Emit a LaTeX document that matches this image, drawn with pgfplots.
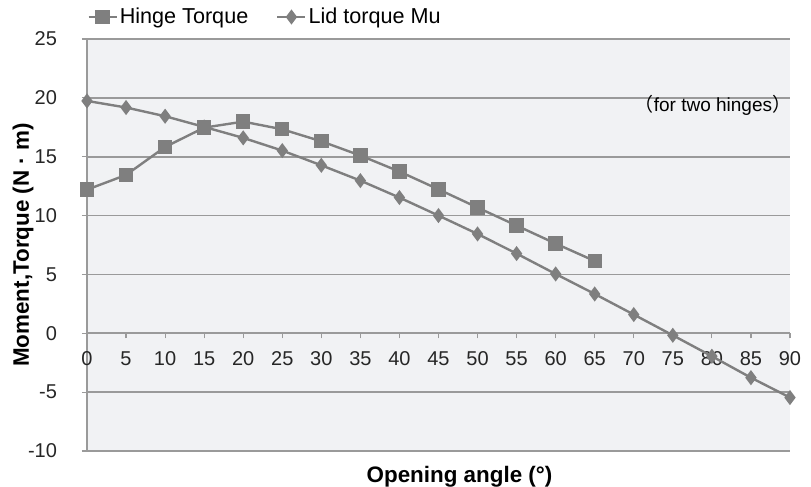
\documentclass[border=0pt]{standalone}
\usepackage{pgfplots}
\pgfplotsset{compat=1.18}
\usepackage{fontspec}
\setmainfont{Liberation Sans}
\newfontfamily\cjk{Noto Sans CJK SC}
\definecolor{bgc}{HTML}{F1F2F4}
\definecolor{gridc}{HTML}{9A9A9A}
\definecolor{serc}{HTML}{7F7F7F}
\begin{document}
\begin{tikzpicture}
\path[use as bounding box] (0,0) rectangle (405.5pt,243.5pt);
\begin{axis}[
  at={(43.5pt,18pt)}, anchor=south west,
  scale only axis, width=351.5pt, height=206pt,
  xmin=0, xmax=90, ymin=-10, ymax=25,
  axis x line=middle, axis y line=left,
  hide obscured x ticks=false, hide obscured y ticks=false,
  axis line style={gridc, line width=0.8pt, -},
  xtick={0,5,...,90}, ytick={-10,-5,...,25},
  tick align=outside, major tick length=2.5pt,
  tick style={gridc, line width=0.6pt},
  ymajorgrids, grid style={gridc, line width=0.8pt},
  axis background/.style={fill=bgc},
  /pgf/number format/assume math mode=true,
  ticklabel style={font=\fontsize{10}{12}\selectfont, text=black!85},
  xticklabel style={yshift=-3pt},
  yticklabel style={xshift=-9pt},
  xlabel={\textbf{Opening angle (°)}},
  xlabel style={at={(axis description cs:0.5,0)}, anchor=north, xshift=10.5pt, yshift=-5.5pt, inner sep=2pt, font=\fontsize{11.2}{13}\selectfont},
  ylabel={\textbf{Moment,Torque (N · m)}},
  ylabel style={at={(axis description cs:0,0.5)}, anchor=center, yshift=32pt, font=\fontsize{11.2}{13}\selectfont},
  legend columns=2,
  legend style={draw=none, fill=none, at={(0,1)}, anchor=west, xshift=0pt, yshift=11pt,
    font=\fontsize{10.8}{12}\selectfont, inner sep=0pt,
    nodes={inner sep=1pt},
    /tikz/every even column/.append style={column sep=13pt}},
  legend image code/.code={\draw[mark repeat=2,mark phase=2] plot coordinates {(0pt,0pt)(7pt,0pt)(14pt,0pt)};},
  clip=false,
]
\addplot[serc, line width=1.2pt, mark=square*, mark size=3pt, mark options={solid, fill=serc}]
coordinates {(0,12.2)(5,13.45)(10,15.83)(15,17.47)(20,17.98)(25,17.33)(30,16.31)(35,15.1)(40,13.74)(45,12.23)(50,10.68)(55,9.15)(60,7.62)(65,6.14)};
\addlegendentry{Hinge Torque}
\addplot[serc, line width=1.2pt, mark=diamond*, mark size=2.8pt, mark options={solid, fill=serc}]
coordinates {(0,19.74)(5,19.18)(10,18.44)(15,17.53)(20,16.6)(25,15.52)(30,14.27)(35,12.97)(40,11.53)(45,10.0)(50,8.44)(55,6.77)(60,5.04)(65,3.34)(70,1.59)(75,-0.17)(80,-1.95)(85,-3.77)(90,-5.46)};
\addlegendentry{Lid torque Mu}
\node[anchor=east, inner sep=0pt, font=\fontsize{9.5}{11}\selectfont] at (axis cs:90.2,19.4) {{\cjk （}for two hinges{\cjk ）}};
\end{axis}
\end{tikzpicture}
\end{document}
